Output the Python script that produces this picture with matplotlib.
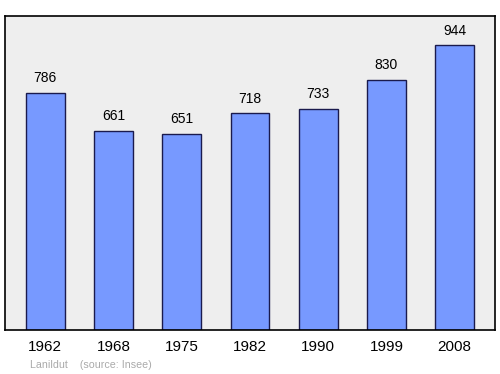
import matplotlib.pyplot as plt

years = ['1962', '1968', '1975', '1982', '1990', '1999', '2008']
population = [786, 661, 651, 718, 733, 830, 944]

plt.rcParams['font.family'] = ['Liberation Sans', 'DejaVu Sans']

fig = plt.figure(figsize=(5, 3.74), dpi=100)
ax = fig.add_axes([5/500, 1 - 330/374, 490/500, 314/374])
ax.set_facecolor('#eeeeee')

x = range(len(years))
ax.bar(x, population, width=0.57, color='#7799ff', edgecolor='#1a1a4d', linewidth=1)
for i, v in zip(x, population):
    ax.annotate(str(v), (i, v), xytext=(0, 5.5), textcoords='offset points',
                ha='center', va='bottom', fontsize=10)

ax.set_xlim(-0.59, 6.59)
ax.set_ylim(0, 1041)
ax.set_yticks([])
ax.set_xticks(list(x))
ax.set_xticklabels(years, fontsize=11)
ax.tick_params(axis='x', length=0, pad=7.5)
for s in ax.spines.values():
    s.set_linewidth(1.2)

fig.text(30/500, 1 - 365/374, 'Lanildut    (source: Insee)', fontsize=7.7, color='#aaaaaa', va='center')

fig.savefig('out.png', dpi=100)
